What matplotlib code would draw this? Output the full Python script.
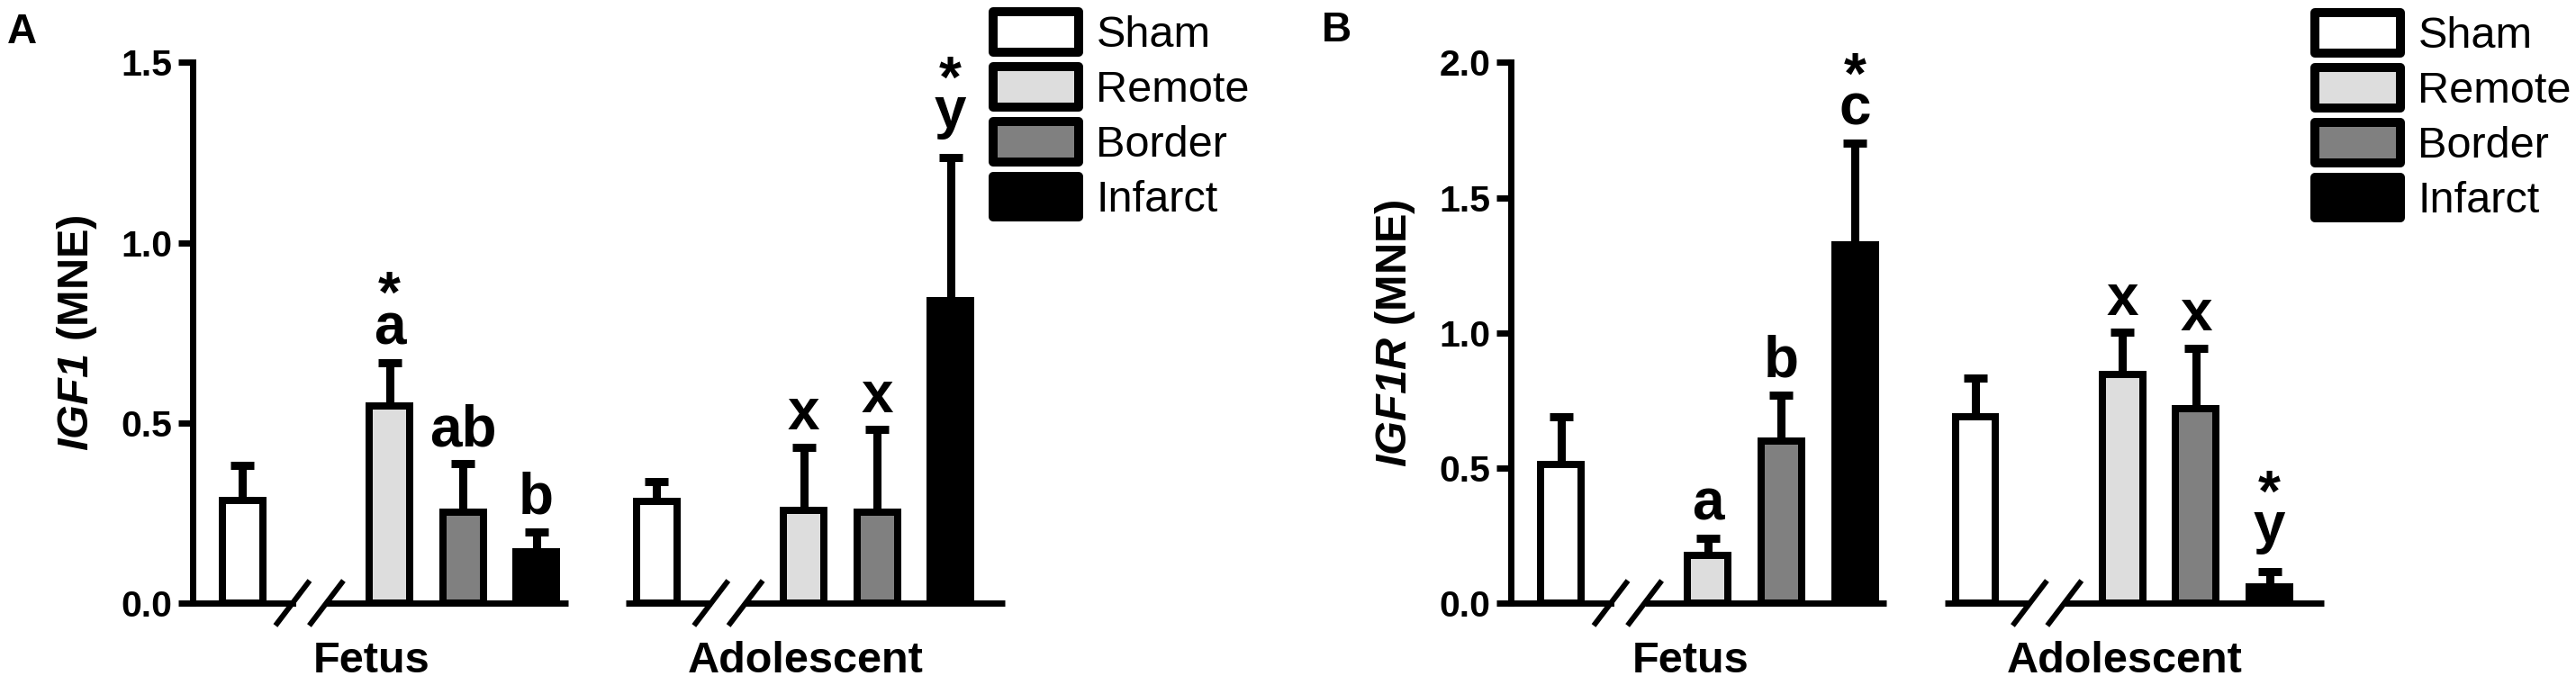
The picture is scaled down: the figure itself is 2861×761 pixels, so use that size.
import matplotlib
matplotlib.use('Agg')
import matplotlib.pyplot as plt
import matplotlib.transforms as mtransforms
import numpy as np
from matplotlib.textpath import TextPath
from matplotlib.font_manager import FontProperties

plt.rcParams['font.family'] = ['Liberation Sans', 'DejaVu Sans']
plt.rcParams['mathtext.fontset'] = 'custom'
plt.rcParams['mathtext.it'] = 'Liberation Sans:italic:bold'
plt.rcParams['mathtext.rm'] = 'Liberation Sans:italic:bold'
plt.rcParams['mathtext.bf'] = 'Liberation Sans:bold'

# ---------------- data ----------------
groups = ['Fetus', 'Adolescent']
treatments = ['Sham', 'Remote', 'Border', 'Infarct']
colors = ['#ffffff', '#dddddd', '#808080', '#000000']

# Panel A : IGF1 (MNE)
igf1_fetus_mean = [0.285, 0.548, 0.253, 0.142]
igf1_fetus_sem = [0.098, 0.120, 0.133, 0.055]
igf1_adol_mean = [0.281, 0.257, 0.251, 0.840]
igf1_adol_sem = [0.057, 0.176, 0.230, 0.397]
igf1_fetus_letters = ['', 'a', 'ab', 'b']
igf1_fetus_stars = [False, True, False, False]
igf1_adol_letters = ['', 'x', 'x', 'y']
igf1_adol_stars = [False, False, False, True]
igf1_yticks = [0.0, 0.5, 1.0, 1.5]

# Panel B : IGF1R (MNE)
igf1r_fetus_mean = [0.513, 0.178, 0.601, 1.324]
igf1r_fetus_sem = [0.176, 0.063, 0.168, 0.378]
igf1r_adol_mean = [0.690, 0.847, 0.718, 0.060]
igf1r_adol_sem = [0.144, 0.154, 0.226, 0.055]
igf1r_fetus_letters = ['', 'a', 'b', 'c']
igf1r_fetus_stars = [False, False, False, True]
igf1r_adol_letters = ['', 'x', 'x', 'y']
igf1r_adol_stars = [False, False, False, True]
igf1r_yticks = [0.0, 0.5, 1.0, 1.5, 2.0]

# ---------------- layout ----------------
W, H = 2861, 761
fig = plt.figure(figsize=(W / 100, H / 100), dpi=100)
renderer = fig.canvas.get_renderer()
PT = 72.0 / fig.dpi  # points per pixel

within = np.array([0.0, 2.0, 3.0, 4.0])
group_offset = [0.0, 5.64]
segments = [(-0.68, 4.43), (5.22, 10.38)]
slash_rel = [(0.68, 1.14), (0.74, 1.21)]
label_rel = [1.76, 2.03]

ANN_SIZE = 46
fp_ann = FontProperties(family='Liberation Sans', weight='bold', size=ANN_SIZE)
_, LP_H, LP_D = renderer.get_text_width_height_descent('lp', fp_ann, ismath=False)


def ink_px(s):
    ext = TextPath((0, 0), s, prop=fp_ann).get_extents()
    return ext.y0 / PT, ext.y1 / PT


def annotation(ax, x, top, letter, star):
    """Letter (optionally with a star stacked above) placed above an error cap."""
    y0, y1 = ink_px(letter)
    base_px = 4.5 + 15 - y0          # letter baseline above the cap centre
    _, _, d_let = renderer.get_text_width_height_descent(letter, fp_ann, ismath=False)
    d_last = max(d_let, LP_D)
    s = letter
    ls = 1.0
    if star:
        s0, _ = ink_px('*')
        dist = y1 + 21 - s0          # baseline-to-baseline distance star/letter
        ls = (dist - LP_D) / (LP_H - LP_D)
        s = '*\n' + letter
    ax.annotate(s, xy=(x, top), xytext=(0, (base_px - d_last) * PT),
                textcoords='offset points', ha='center', va='bottom',
                fontsize=ANN_SIZE, fontweight='bold', linespacing=ls,
                annotation_clip=False)


def px_axes(l, r, top, bottom):
    return fig.add_axes([l / W, 1 - bottom / H, (r - l) / W, (bottom - top) / H])


def draw_panel(ax, means, sems, letters, stars, yticks, ylabel, leg_anchor):
    ymax = yticks[-1]
    ax.set_xlim(segments[0][0], segments[1][1])
    ax.set_ylim(0, ymax)
    bb = ax.get_window_extent()
    ppx_x = (segments[1][1] - segments[0][0]) / bb.width
    ppx_y = ymax / bb.height

    handles = []
    for ti, tname in enumerate(treatments):
        xs = [group_offset[gi] + within[ti] for gi in range(2)]
        ys = [means[gi][ti] for gi in range(2)]
        es = [sems[gi][ti] for gi in range(2)]
        b = ax.bar(xs, ys, width=0.55, color=colors[ti], edgecolor='black',
                   linewidth=5.76, zorder=3, label=tname)
        handles.append(b)
        ax.errorbar(xs, ys, yerr=[np.zeros(2), es], fmt='none', ecolor='black',
                    elinewidth=6.5, capsize=9.7, capthick=6.5, zorder=2)

    for gi in range(2):
        for ti in range(4):
            if letters[gi][ti]:
                annotation(ax, group_offset[gi] + within[ti], means[gi][ti] + sems[gi][ti],
                           letters[gi][ti], stars[gi][ti])

    # broken x axis: two baseline segments with "//" marks
    ax.spines['bottom'].set_visible(False)
    ax.spines['top'].set_visible(False)
    ax.spines['right'].set_visible(False)
    ax.spines['left'].set_linewidth(5)
    for gi in range(2):
        g = group_offset[gi]
        s1 = g + slash_rel[gi][0]
        s2 = g + slash_rel[gi][1]
        left = segments[gi][0]
        right = segments[gi][1]
        ax.plot([left, s1], [0, 0], color='black', lw=5,
                solid_capstyle='projecting' if gi == 0 else 'butt', clip_on=False, zorder=4)
        ax.plot([s2, right], [0, 0], color='black', lw=5, solid_capstyle='butt',
                clip_on=False, zorder=4)
        for sx in (s1, s2):
            ax.plot([sx - 19 * ppx_x, sx + 19 * ppx_x], [-25 * ppx_y, 25 * ppx_y],
                    color='black', lw=4.3, solid_capstyle='butt', clip_on=False, zorder=4)
        ax.text(g + label_rel[gi], -0.128, groups[gi],
                transform=mtransforms.blended_transform_factory(ax.transData, ax.transAxes),
                ha='center', va='baseline', fontsize=35, fontweight='bold')

    ax.set_xticks([])
    ax.set_yticks(yticks, labels=['%.1f' % t for t in yticks],
                  fontsize=29.5, fontweight='bold')
    ax.tick_params(axis='y', direction='out', length=11.5, width=5, pad=5)
    ax.set_ylabel(ylabel, fontsize=35)
    ax.yaxis.set_label_coords(-0.115, 0.5)

    leg = ax.legend(handles, treatments, loc='upper left', bbox_to_anchor=leg_anchor,
                    bbox_transform=fig.transFigure, frameon=False, fontsize=35,
                    handlelength=1.955, handleheight=1.048, handletextpad=0.40,
                    labelspacing=0.247, borderpad=0, borderaxespad=0)
    for p in leg.get_patches():
        p.set_linewidth(7.2)
        p.set_joinstyle('round')


axA = px_axes(214, 1116, 69.4, 670)
axB = px_axes(1678, 2581, 69.4, 670)

draw_panel(axA, [igf1_fetus_mean, igf1_adol_mean], [igf1_fetus_sem, igf1_adol_sem],
           [igf1_fetus_letters, igf1_adol_letters], [igf1_fetus_stars, igf1_adol_stars],
           igf1_yticks, r'$\mathit{IGF1}\ \mathbf{(MNE)}$', (1103 / W, 1 - 13 / H))
draw_panel(axB, [igf1r_fetus_mean, igf1r_adol_mean], [igf1r_fetus_sem, igf1r_adol_sem],
           [igf1r_fetus_letters, igf1r_adol_letters], [igf1r_fetus_stars, igf1r_adol_stars],
           igf1r_yticks, r'$\mathit{IGF1R}\ \mathbf{(MNE)}$', (2571 / W, 1 - 14 / H))

fig.text(8 / W, 1 - 48 / H, 'A', fontsize=33, fontweight='bold', ha='left', va='baseline')
fig.text(1468 / W, 1 - 46 / H, 'B', fontsize=33, fontweight='bold', ha='left', va='baseline')

fig.savefig('out.png', dpi=100, facecolor='white')
